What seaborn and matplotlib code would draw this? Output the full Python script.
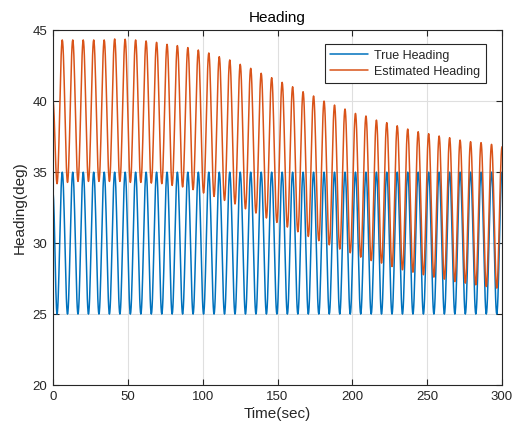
import numpy as np
import pandas as pd
import matplotlib
matplotlib.use("Agg")
import matplotlib.pyplot as plt
import seaborn as sns

# ---- data (extrema of each oscillation) ----
start_time = 0.0
true_start = 33.5
est_start = 40.0

trough_times = [2.7, 9.7, 16.7, 23.7, 30.7, 37.7, 44.7, 51.7, 58.7, 65.7, 72.7,
                79.6, 86.6, 93.6, 100.6, 107.6, 114.6, 121.6, 128.6, 135.6, 142.6,
                149.6, 156.6, 163.6, 170.6, 177.6, 184.6, 191.6, 198.6, 205.6, 212.6,
                219.5, 226.5, 233.5, 240.5, 247.5, 254.5, 261.5, 268.5, 275.5, 282.5,
                289.5, 296.5]
peak_times = [6.2, 13.2, 20.2, 27.2, 34.2, 41.2, 48.2, 55.2, 62.2, 69.2, 76.2,
              83.1, 90.1, 97.1, 104.1, 111.1, 118.1, 125.1, 132.1, 139.1, 146.1,
              153.1, 160.1, 167.1, 174.1, 181.1, 188.1, 195.1, 202.1, 209.1, 216.1,
              223.0, 230.0, 237.0, 244.0, 251.0, 258.0, 265.0, 272.0, 279.0, 286.0,
              293.0, 300.0]

true_troughs = [25.0] * 43
true_peaks = [35.0] * 43

est_troughs = [34.19, 34.28, 34.35, 34.35, 34.35, 34.35, 34.35, 34.28, 34.28, 34.23,
               34.19, 34.07, 33.96, 33.77, 33.53,
               33.29, 33.01, 32.76, 32.42, 32.12, 31.77, 31.46, 31.13, 30.80, 30.47,
               30.17, 29.88, 29.58, 29.32,
               29.01, 28.77, 28.59, 28.35, 28.12, 27.95, 27.77, 27.60, 27.46, 27.29,
               27.18, 27.06, 26.94, 26.83]
est_peaks = [44.32, 44.32, 44.32, 44.32, 44.32, 44.39, 44.37, 44.32, 44.25, 44.15,
             44.01, 43.92, 43.78, 43.61, 43.40,
             43.14, 42.91, 42.60, 42.32, 41.97, 41.66, 41.33, 41.02, 40.67, 40.37,
             40.01, 39.73, 39.45, 39.14,
             38.96, 38.67, 38.49, 38.27, 38.04, 37.85, 37.71, 37.55, 37.43, 37.26,
             37.15, 37.08, 36.96, 36.79]

series_names = ["True Heading", "Estimated Heading"]
colors = ["#0072BD", "#D95319"]


def smooth_through(start_v, troughs, peaks):
    # knots: start, trough0, peak0, trough1, peak1, ...
    kt = [start_time]
    kv = [start_v]
    for tt, tv, pt, pv in zip(trough_times, troughs, peak_times, peaks):
        kt += [tt, pt]
        kv += [tv, pv]
    ts, vs = [], []
    for i in range(len(kt) - 1):
        s = np.linspace(0, 1, 14, endpoint=(i == len(kt) - 2))
        ts.append(kt[i] + (kt[i + 1] - kt[i]) * s)
        vs.append(kv[i] + (kv[i + 1] - kv[i]) * (1 - np.cos(np.pi * s)) / 2)
    return np.concatenate(ts), np.concatenate(vs)


t1, v1 = smooth_through(true_start, true_troughs, true_peaks)
t2, v2 = smooth_through(est_start, est_troughs, est_peaks)
df = pd.concat([
    pd.DataFrame({"Time": t1, "Heading": v1, "Series": series_names[0]}),
    pd.DataFrame({"Time": t2, "Heading": v2, "Series": series_names[1]}),
], ignore_index=True)

sns.set_style("white")
plt.rcParams["font.family"] = ["Liberation Sans", "DejaVu Sans"]
axis_color = "#262626"

fig = plt.figure(figsize=(5.12, 4.30), dpi=100)
ax = fig.add_axes([53 / 512, 1 - 385 / 430, (502 - 53) / 512, (385 - 30.3) / 430])

sns.lineplot(data=df, x="Time", y="Heading", hue="Series", hue_order=series_names,
             palette=colors, estimator=None, sort=False, linewidth=1.1, ax=ax)

ax.set_xlim(0, 300)
ax.set_ylim(20, 45)
ax.set_xticks([0, 50, 100, 150, 200, 250, 300])
ax.set_yticks([20, 25, 30, 35, 40, 45])
ax.grid(True, color="#DFDFDF", linewidth=0.8)
ax.set_axisbelow(True)
for sp in ax.spines.values():
    sp.set_visible(True)
    sp.set_color(axis_color)
    sp.set_linewidth(0.8)
ax.tick_params(axis="both", which="both", direction="in", length=4, width=0.8,
               colors=axis_color, labelsize=9.5, top=True, right=True,
               bottom=True, left=True, labelcolor=axis_color, pad=4)

ax.set_title("Heading", fontsize=11, color="black", pad=6)
ax.set_xlabel("Time(sec)", fontsize=11, color=axis_color, labelpad=3)
ax.set_ylabel("Heading(deg)", fontsize=11, color=axis_color, labelpad=4)

leg = ax.legend(loc="upper right", bbox_to_anchor=(0.964, 0.961), borderaxespad=0,
                fontsize=9, frameon=True, fancybox=False, handlelength=3.0,
                handletextpad=0.5, borderpad=0.45, labelspacing=0.3)
leg.get_frame().set_edgecolor(axis_color)
leg.get_frame().set_linewidth(0.8)
leg.get_frame().set_alpha(1)
for line in leg.get_lines():
    line.set_linewidth(1.1)

fig.savefig("out.png", dpi=100)
